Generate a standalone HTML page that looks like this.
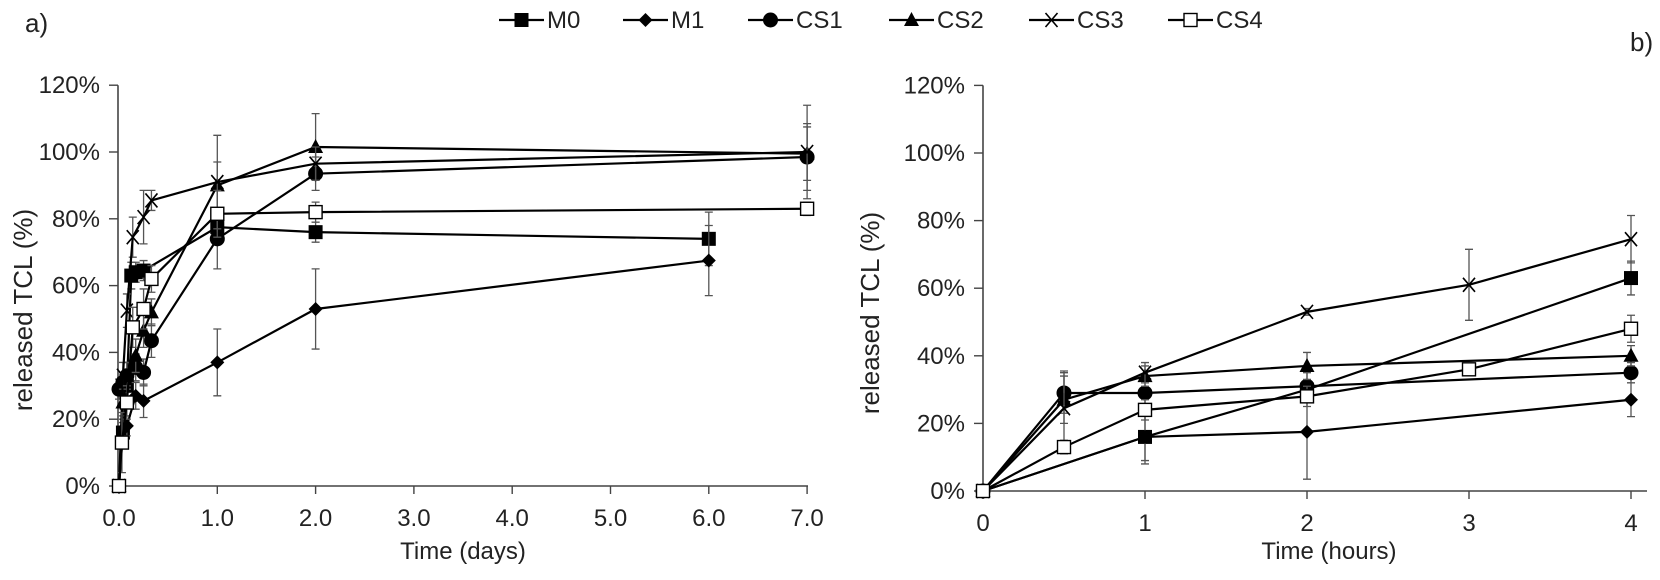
<!DOCTYPE html>
<html><head><meta charset="utf-8">
<style>
html,body{margin:0;padding:0;background:#fff;}
svg{display:block;font-family:"Liberation Sans",Arial,sans-serif;}
</style></head>
<body>
<svg id="chart" width="1660" height="580" viewBox="0 0 1660 580">
</svg>
<script>
// ---- Data: panel a (days) ----
const seriesNames = ["M0","M1","CS1","CS2","CS3","CS4"];
const aM0x  = [0,0.04,0.08,0.125,0.17,0.25,1,2,6];
const aM0y  = [0,16,30,63,64,64.5,77.5,76,74];
const aM0e  = [0,3,4,4,3,3,5,3,8];
const aM1x  = [0,0.04,0.08,0.17,0.25,1,2,6];
const aM1y  = [0,17,18,27,25.5,37,53,67.5];
const aM1e  = [0,3,3,4,5,10,12,10.5];
const aCS1x = [0,0.04,0.08,0.17,0.25,0.33,1,2,7];
const aCS1y = [29,31,33,35.5,34,43.5,74,93.5,98.5];
const aCS1e = [3,3,4,4,4,5,9,5,10];
const aCS2x = [0,0.04,0.08,0.17,0.25,0.33,1,2,7];
const aCS2y = [0,25,33,39,46.5,52,90,101.5,99.5];
const aCS2e = [0,4,4,5,5,4,7,10,8];
const aCS3x = [0,0.04,0.08,0.14,0.25,0.33,1,2,7];
const aCS3y = [0,33,52.5,74.5,80.5,85.5,91,96.5,100];
const aCS3e = [0,4,5,6,8,3,14,5,14];
const aCS4x = [0,0.03,0.08,0.14,0.25,0.33,1,2,7];
const aCS4y = [0,13,25,47.5,53,62,81.5,82,83];
const aCS4e = [0,9,5,6,6,4,7,3,2];
// ---- Data: panel b (hours) ----
const bM0x  = [0,1,2,4];
const bM0y  = [0,16,30,63];
const bM0e  = [0,8,2,5];
const bM1x  = [0,1,2,4];
const bM1y  = [0,16,17.5,27];
const bM1e  = [0,7,14,5];
const bCS1x = [0,0.5,1,2,4];
const bCS1y = [0,29,29,31,35];
const bCS1e = [0,6,4,4,3];
const bCS2x = [0,0.5,1,2,4];
const bCS2y = [0,27,34,37,40];
const bCS2e = [0,7,3,4,3];
const bCS3x = [0,0.5,1,2,3,4];
const bCS3y = [0,24.5,35,53,61,74.5];
const bCS3e = [0,11,3,1,10.5,7];
const bCS4x = [0,0.5,1,2,3,4];
const bCS4y = [0,13,24,28,36,48];
const bCS4e = [0,2,3,3,1,4];
const yTicks = [0,20,40,60,80,100,120];
const aXTicks = [0,1,2,3,4,5,6,7];
const bXTicks = [0,1,2,3,4];

const NS="http://www.w3.org/2000/svg";
const svg=document.getElementById('chart');
function mk(tag,attrs,parent){const e=document.createElementNS(NS,tag);for(const k in attrs)e.setAttribute(k,attrs[k]);(parent||svg).appendChild(e);return e;}

const A={x:d=>119+98.3*d, y:v=>486-3.34*v, ax:118, x0:118, x1:808, yb:486};
const B={x:h=>983+162*h, y:v=>491-3.38*v, ax:983, x0:983, x1:1647, yb:491};

function marker(g,type,cx,cy){
  let e;
  if(type==="M0"){e=mk('rect',{x:cx-7,y:cy-7,width:14,height:14,fill:'#000'},g);}
  else if(type==="M1"){e=mk('polygon',{points:`${cx},${cy-7} ${cx+7},${cy} ${cx},${cy+7} ${cx-7},${cy}`,fill:'#000'},g);}
  else if(type==="CS1"){e=mk('circle',{cx:cx,cy:cy,r:7.5,fill:'#000'},g);}
  else if(type==="CS2"){e=mk('polygon',{points:`${cx},${cy-8} ${cx+7.5},${cy+6} ${cx-7.5},${cy+6}`,fill:'#000'},g);}
  else if(type==="CS3"){e=mk('path',{d:`M${cx-6},${cy-7}L${cx+6},${cy+7}M${cx+6},${cy-7}L${cx-6},${cy+7}`,stroke:'#000','stroke-width':1.6,fill:'none'},g);}
  else {e=mk('rect',{x:cx-6.5,y:cy-6.5,width:13,height:13,fill:'#fff',stroke:'#000','stroke-width':1.4},g);}
  
  
  return e;
}

function panel(P,id,xs,ys,es,xticks,fmt,xtitle,titleX){
  const g=mk('g',{});
  
  
  const ya=mk('line',{x1:P.ax,y1:P.y(120),x2:P.ax,y2:P.yb,stroke:'#444','stroke-width':1.6},g);
  
  
  const xa=mk('line',{x1:P.x0,y1:P.yb,x2:P.x1,y2:P.yb,stroke:'#444','stroke-width':1.6},g);
  
  
  yTicks.forEach(t=>{
    const y=P.y(t);
    mk('line',{x1:P.ax-9,y1:y,x2:P.ax,y2:y,stroke:'#444','stroke-width':1.4},g);
    const tx=mk('text',{x:P.ax-18,y:y+8,'text-anchor':'end','font-size':24,fill:'#222'},g);
    tx.textContent=t+'%';
    
    
  });
  xticks.forEach(t=>{
    const x=P.x(t);
    mk('line',{x1:x,y1:P.yb,x2:x,y2:P.yb+8,stroke:'#444','stroke-width':1.4},g);
    const tx=mk('text',{x:x,y:P.yb+40,'text-anchor':'middle','font-size':24,fill:'#222'},g);
    tx.textContent=fmt(t);
    
    
  });
  const xt=mk('text',{x:titleX,y:559,'text-anchor':'middle','font-size':24,fill:'#222'},g);
  xt.textContent=xtitle;
  
  
  seriesNames.forEach((n,i)=>{
    const sg=mk('g',{},g);
    
    
    const X=xs[i],Y=ys[i],E=es[i];
    X.forEach((xv,j)=>{
      if(E[j]>0){
        const cx=P.x(xv),y1=P.y(Y[j]-E[j]),y2=P.y(Y[j]+E[j]);
        mk('path',{d:`M${cx},${y1}L${cx},${y2}M${cx-4},${y1}L${cx+4},${y1}M${cx-4},${y2}L${cx+4},${y2}`,stroke:'#555','stroke-width':1.3,fill:'none'},sg);
      }
    });
    const pts=X.map((xv,j)=>P.x(xv)+','+P.y(Y[j])).join(' ');
    const pl=mk('polyline',{points:pts,fill:'none',stroke:'#000','stroke-width':2.2},sg);
    
    
    X.forEach((xv,j)=>marker(sg,n,P.x(xv),P.y(Y[j])));
  });
}

panel(A,'a',[aM0x,aM1x,aCS1x,aCS2x,aCS3x,aCS4x],[aM0y,aM1y,aCS1y,aCS2y,aCS3y,aCS4y],[aM0e,aM1e,aCS1e,aCS2e,aCS3e,aCS4e],aXTicks,t=>t.toFixed(1),'Time (days)',463);
panel(B,'b',[bM0x,bM1x,bCS1x,bCS2x,bCS3x,bCS4x],[bM0y,bM1y,bCS1y,bCS2y,bCS3y,bCS4y],[bM0e,bM1e,bCS1e,bCS2e,bCS3e,bCS4e],bXTicks,t=>String(t),'Time (hours)',1329);

[[23,310,'y-axis-title-a'],[870,313,'y-axis-title-b']].forEach(([x,y,nm])=>{
  const t=mk('text',{x:x,y:y,transform:`rotate(-90 ${x} ${y})`,'text-anchor':'middle','dominant-baseline':'central','font-size':26,fill:'#222'});
  t.textContent='released TCL (%)';
  
  
});
const la=mk('text',{x:25,y:32,'font-size':26,fill:'#222'});la.textContent='a)';


const lb=mk('text',{x:1630,y:51,'font-size':26,fill:'#222'});lb.textContent='b)';


const legX=[499,623,748,889,1029,1168];
const lg=mk('g',{});


seriesNames.forEach((n,i)=>{
  const eg=mk('g',{},lg);
  
  
  const x=legX[i];
  mk('line',{x1:x,y1:20,x2:x+45,y2:20,stroke:'#000','stroke-width':2.2},eg);
  marker(eg,n,x+22.5,20);
  const t=mk('text',{x:x+48,y:28,'font-size':24,fill:'#222'},eg);
  t.textContent=n;
});
</script>
</body></html>
